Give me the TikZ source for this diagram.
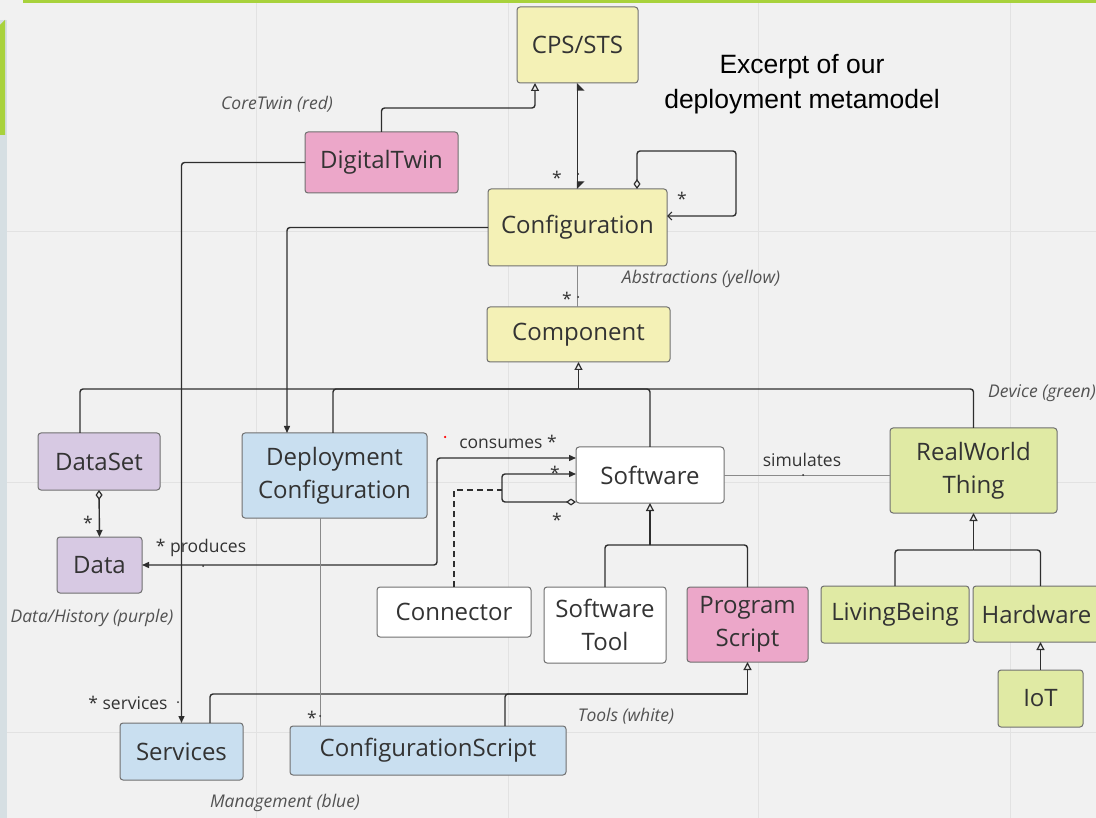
\documentclass[tikz,border=0pt]{standalone}
\usepackage{fontspec}
\setmainfont{Open Sans}
\newfontfamily\titlefont{Liberation Sans}
\usetikzlibrary{arrows.meta}
\definecolor{bg}{HTML}{F1F1F1}
\definecolor{gridc}{HTML}{E2E2E2}
\definecolor{strip}{HTML}{D6DFE3}
\definecolor{greenbar}{HTML}{A8D23C}
\definecolor{yel}{HTML}{F4F1B6}
\definecolor{pnk}{HTML}{ECA7C9}
\definecolor{pur}{HTML}{D7C9E3}
\definecolor{blu}{HTML}{C9DFF0}
\definecolor{grn}{HTML}{E0EAA4}
\definecolor{bord}{HTML}{707070}
\definecolor{txt}{HTML}{333333}
\definecolor{lc}{HTML}{2E2E2E}
\definecolor{thinc}{HTML}{8A8A8A}
\tikzset{
  gentri/.tip={Triangle[open,length=8pt,width=8pt,line width=1.2pt]},
  filltip/.tip={Triangle[length=7pt,width=6pt]},
  diamtip/.tip={Diamond[open,length=10pt,width=7pt,line width=1.2pt]},
  barbtip/.tip={Straight Barb[length=4pt,width=8pt,line width=1.2pt]},
  box/.style={draw=bord, line width=1pt, rounded corners=3pt, inner sep=0pt, outer sep=0pt,
    align=center, text=txt, font=\fontsize{24}{33}\selectfont},
  ybox/.style={box, fill=yel},
  pbox/.style={box, fill=pnk},
  ubox/.style={box, fill=pur},
  bbox/.style={box, fill=blu},
  gbox/.style={box, fill=grn},
  wbox/.style={box, fill=white},
  conn/.style={draw=lc, line width=1.4pt, rounded corners=3pt},
  thinconn/.style={draw=thinc, line width=0.8pt},
  lab/.style={text=txt, inner sep=0pt, font=\fontsize{17.5}{20}\selectfont},
  ilab/.style={text=txt!85, inner sep=0pt, font=\fontsize{17.5}{20}\selectfont\itshape},
  dotm/.style={fill=lc, circle, inner sep=0pt, minimum size=2pt},
}
\begin{document}
\begin{tikzpicture}[x=1pt,y=-1pt]
\useasboundingbox (0,0) rectangle (1096,818);
\fill[bg] (0,0) rectangle (1096,818);
% grid
\foreach \gx in {256,508,758,1010} {\draw[gridc, line width=1pt] (\gx,3) -- (\gx,818);}
\foreach \gy in {232,482,732} {\draw[gridc, line width=1pt] (7,\gy) -- (1096,\gy);}
% frame decorations
\fill[strip] (0,20) rectangle (7,818);
\fill[greenbar] (0,25) -- (5,20) -- (5,135) -- (0,135) -- cycle;
\fill[greenbar] (23,0) rectangle (1096,3);

% title
\node[font=\titlefont\fontsize{26.5}{35}\selectfont, align=center, text=black] (title) at (802,84) {Excerpt of our\\deployment metamodel};

% nodes
\node[ybox, minimum width=121pt, minimum height=76pt] (cps) at (577.5,45) {CPS/STS};
\node[pbox, minimum width=153pt, minimum height=61pt] (dt) at (381.5,162.5) {DigitalTwin};
\node[ybox, minimum width=179pt, minimum height=77pt] (conf) at (577.5,227.5) {Configuration};
\node[ybox, minimum width=183pt, minimum height=55pt] (comp) at (578.5,334.5) {Component};
\node[ubox, minimum width=122pt, minimum height=57pt] (dataset) at (99,461.5) {DataSet};
\node[ubox, minimum width=85pt, minimum height=56pt] (data) at (99.5,565) {Data};
\node[bbox, minimum width=185pt, minimum height=85pt] (depl) at (334.5,475.5) {Deployment\\Configuration};
\node[wbox, minimum width=148pt, minimum height=56pt] (sw) at (650,475) {Software};
\node[gbox, minimum width=167pt, minimum height=85pt] (rwt) at (973.5,470.5) {RealWorld\\Thing};
\node[wbox, minimum width=154pt, minimum height=50pt] (con) at (454,612) {Connector};
\node[wbox, minimum width=122pt, minimum height=76pt] (swt) at (605,625) {Software\\Tool};
\node[pbox, minimum width=121pt, minimum height=75pt] (ps) at (747.5,624.5) {Program\\Script};
\node[gbox, minimum width=148pt, minimum height=57pt] (lb) at (895,614.5) {LivingBeing};
\node[gbox, minimum width=127pt, minimum height=56pt] (hw) at (1036.5,614) {Hardware};
\node[gbox, minimum width=85pt, minimum height=57pt] (iot) at (1040.5,698.5) {IoT};
\node[bbox, minimum width=123pt, minimum height=57pt] (serv) at (181.5,751.5) {Services};
\node[bbox, minimum width=276pt, minimum height=49pt] (cs) at (428,750.5) {ConfigurationScript};

% junction coordinates
\coordinate (bus) at (578.5,389);
\coordinate (sj) at (650,545);
\coordinate (rj) at (973.5,550);
\coordinate (pj) at (747.5,694);
\coordinate (cj) at (502,490);

% connectors
\draw[conn, -{gentri}] (dt.north) |- ([xshift=-42.5pt,yshift=-25pt]cps.south) -- ([xshift=-42.5pt]cps.south);
\draw[conn, {Triangle[length=7pt,width=14pt,right]}-{Triangle[length=7pt,width=14pt,left]}] (cps.south) -- (conf.north);
\draw[conn, {diamtip}-{barbtip}] ([xshift=59.5pt]conf.north) -- ++(0,-38) -- ++(99,0) -- ++(0,65) -- ([yshift=11.5pt]conf.east);
\draw[conn, -{filltip}] (conf.west) -| ([xshift=-47.5pt]depl.north);
\draw[conn, -{filltip}] (dt.west) -| (serv.north);
\draw[thinconn] (conf.south) -- (conf.south |- comp.north);
% component hierarchy
\draw[conn] ([xshift=-19pt]dataset.north) |- (bus);
\draw[conn] ([xshift=-1.5pt]depl.north) |- (bus);
\draw[conn] (sw.north) |- (bus);
\draw[conn] (rwt.north) |- (bus);
\draw[conn, -{gentri}] (bus) -- (comp.south);
% dataset - data
\draw[conn, {diamtip}-{filltip}] (dataset.south) -- (data.north);
% produces / consumes
\draw[conn, {filltip}-{filltip}] (data.east) -- ++(295,0) |- ([yshift=17pt]sw.west);
% software self association
\draw[conn, {diamtip}-{filltip}] ([yshift=-27pt]sw.west) -- ++(-74,0) |- ([yshift=1pt]sw.west);
\draw[conn, dash pattern=on 6pt off 4pt, rounded corners=0pt] (con.north) |- (cj);
% software hierarchy
\draw[conn] (swt.north) |- (sj);
\draw[conn] (ps.north) |- (sj);
\draw[conn, -{gentri}] (sj) -- (sw.south);
% simulates
\draw[thinconn] (sw.east) -- (sw.east -| rwt.west);
% real world hierarchy
\draw[conn] (lb.north) |- (rj);
\draw[conn] (iot.north |- hw.north) |- (rj);
\draw[conn, -{gentri}] (rj) -- (rwt.south);
\draw[conn, -{gentri}] (iot.north) -- (iot.north |- hw.south);
% program script hierarchy
\draw[conn] ([xshift=28.5pt]serv.north) |- (pj);
\draw[conn] ([xshift=77pt]cs.north) |- (pj);
\draw[conn, -{gentri}] (pj) -- (ps.south);
% deployment configuration - configuration script
\draw[thinconn] ([xshift=-14.5pt]depl.south) -- ([xshift=-14.5pt]depl.south |- cs.north);

% small dots
\node[dotm] (d1) at (578,174) {};
\node[dotm] (d2) at (578,297) {};
\node[dotm] (d3) at (203,566) {};
\node[dotm] (d4) at (803,475) {};
\node[dotm] (d5) at (178,702) {};
\node[dotm] (d6) at (320,716) {};
\node[dotm, fill=red, minimum size=2.5pt] (d7) at (445,437) {};

% multiplicities and role labels
\node[lab] (m1) at (557,178) {*};
\node[lab] (m2) at (682,199) {*};
\node[lab] (m3) at (567,299) {*};
\node[lab] (m4) at (88,523) {*};
\node[lab] (m5) at (555,473) {*};
\node[lab] (m6) at (557,520) {*};
\node[lab] (m7) at (312,718) {*};
\node[lab] (consumes) at (508,442) {consumes *};
\node[lab] (produces) at (201,548) {* produces};
\node[lab] (simulates) at (802,460) {simulates};
\node[lab] (services) at (128,703) {* services};

% legend labels
\node[ilab] (l1) at (277,104) {CoreTwin (red)};
\node[ilab] (l2) at (701,279) {Abstractions (yellow)};
\node[ilab] (l3) at (1042,393) {Device (green)};
\node[ilab] (l4) at (92,618) {Data/History (purple)};
\node[ilab] (l5) at (626,716) {Tools (white)};
\node[ilab] (l6) at (285,803) {Management (blue)};
\end{tikzpicture}
\end{document}
